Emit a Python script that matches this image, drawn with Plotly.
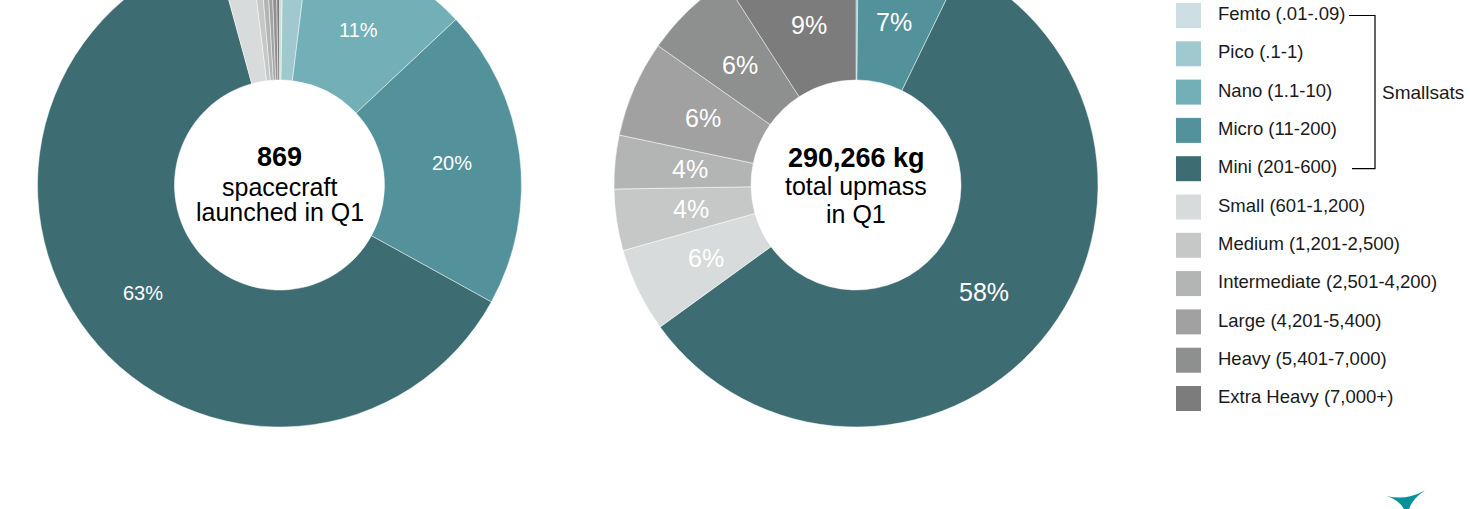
"""Q1 spacecraft launches by mass class: count and upmass donuts."""

import numpy as np
import plotly.graph_objects as go

FONT = "Liberation Sans, Arial, sans-serif"

CATEGORIES = [
    "Femto (.01-.09)", "Pico (.1-1)", "Nano (1.1-10)", "Micro (11-200)",
    "Mini (201-600)", "Small (601-1,200)", "Medium (1,201-2,500)",
    "Intermediate (2,501-4,200)", "Large (4,201-5,400)",
    "Heavy (5,401-7,000)", "Extra Heavy (7,000+)",
]
COLORS = [
    "#cddfe3", "#a0c8cf", "#72afb6", "#53929b", "#3d6c73",
    "#d8dbdb", "#c6c7c7", "#b3b4b4", "#a1a1a1", "#8e8f8f", "#7c7c7c",
]
# spacecraft launched in Q1 (total 869)
SPACECRAFT_COUNT = [2, 15, 96, 174, 545, 20, 5, 4, 3, 3, 2]
# upmass in kg (total 290,266)
UPMASS_KG = [1, 19, 400, 20500, 167800, 16300, 11900, 10400, 18700, 17800, 26446]

# which slices carry a percentage label
COUNT_LABELED = [False, False, True, True, True, False, False, False, False, False, False]
MASS_LABELED = [False, False, False, True, True, True, True, True, True, True, True]

SMALLSAT_GROUP = (0, 4)  # first/last legend row under the bracket

W, H = 1470, 566
CUT = 57  # the page is shifted up so the donut tops fall outside the window
R_OUT = 242
CY = 185  # donut centre, window pixels


def fx(px):
    return px / W


def fy(win_px):
    # window pixel (from top of visible area) -> paper y
    return 1 - (win_px + CUT) / H


def slice_labels(values, labeled, cx, r_lab, size):
    """Percent labels placed on each slice's bisector, mid-ring."""
    vals = np.asarray(values, dtype=float)
    total = vals.sum()
    start = np.concatenate([[0], np.cumsum(vals)[:-1]])
    mid = np.radians(360 * (start + vals / 2) / total)
    out = []
    for v, a, show in zip(vals, mid, labeled):
        if not show:
            continue
        out.append(dict(
            text=f"{v / total:.0%}",
            x=fx(cx + r_lab * np.sin(a)), y=fy(CY - r_lab * np.cos(a)),
            xref="paper", yref="paper", xanchor="center", yanchor="middle",
            showarrow=False, font=dict(family=FONT, size=size, color="#ffffff"),
        ))
    return out


fig = go.Figure()

pie_common = dict(
    sort=False,
    direction="clockwise",
    rotation=0,
    hole=0.434,
    showlegend=False,
    hoverinfo="label+value+percent",
    textinfo="none",
    marker=dict(colors=COLORS, line=dict(color="rgba(255,255,255,0.8)", width=0.6)),
)

LEFT_CX, RIGHT_CX = 279.5, 856
dom_y = [fy(CY + R_OUT), fy(CY - R_OUT)]

fig.add_trace(go.Pie(
    labels=CATEGORIES, values=SPACECRAFT_COUNT,
    domain=dict(x=[fx(LEFT_CX - R_OUT), fx(LEFT_CX + R_OUT)], y=dom_y),
    **pie_common,
))
fig.add_trace(go.Pie(
    labels=CATEGORIES, values=UPMASS_KG,
    domain=dict(x=[fx(RIGHT_CX - R_OUT), fx(RIGHT_CX + R_OUT)], y=dom_y),
    **pie_common,
))

# custom legend: big squares + labels
rows = list(range(len(CATEGORIES)))
LEGEND_X = 1188.5
LEGEND_TEXT_X = 1218

fig.add_trace(go.Scatter(
    x=[LEGEND_X] * len(rows), y=rows, mode="markers",
    marker=dict(symbol="square", size=25, color=COLORS, line=dict(width=0)),
    hoverinfo="skip", showlegend=False,
))
fig.add_trace(go.Scatter(
    x=[LEGEND_TEXT_X] * len(rows), y=rows, mode="text",
    text=CATEGORIES, textposition="middle right",
    textfont=dict(family=FONT, size=18.5, color="#1a1a1a"),
    hoverinfo="skip", showlegend=False,
))

top, bot = SMALLSAT_GROUP
fig.add_shape(
    type="path", xref="x", yref="y",
    path=f"M1349,{top} H1375 V{bot} H1352",
    line=dict(color="#000000", width=1.2),
)

annotations = [
    dict(text="Smallsats", x=1380, y=(top + bot) / 2, xref="x", yref="y",
         xanchor="left", yanchor="middle", showarrow=False,
         font=dict(family=FONT, size=19, color="#1a1a1a")),
]
annotations += slice_labels(SPACECRAFT_COUNT, COUNT_LABELED, LEFT_CX, 174, 20)
annotations += slice_labels(UPMASS_KG, MASS_LABELED, RIGHT_CX, 167, 25)

centers = [
    (LEFT_CX, [("<b>869</b>", 27, 157.2), ("spacecraft", 25, 187.3), ("launched in Q1", 25, 212)]),
    (RIGHT_CX, [("<b>290,266 kg</b>", 27, 158.2), ("total upmass", 25, 186.3), ("in Q1", 25, 214)]),
]
for cx, lines in centers:
    for txt, size, wy in lines:
        annotations.append(dict(
            text=txt, x=fx(cx), y=fy(wy), xref="paper", yref="paper",
            xanchor="center", yanchor="middle", showarrow=False,
            font=dict(family=FONT, size=size, color="#000000"),
        ))

# partial logo mark, bottom right
logo = (f"M{fx(1387)},{fy(496)} Q{fx(1405)},{fy(501)} {fx(1425)},{fy(490.5)} "
        f"Q{fx(1412)},{fy(499)} {fx(1409)},{fy(509)} L{fx(1404)},{fy(509)} "
        f"Q{fx(1399)},{fy(500)} {fx(1387)},{fy(496)} Z")
fig.add_shape(type="path", xref="paper", yref="paper", path=logo,
              fillcolor="#0b8f98", line=dict(width=0))

fig.update_layout(
    width=W,
    height=H,
    margin=dict(l=0, r=0, t=0, b=0),
    paper_bgcolor="#ffffff",
    plot_bgcolor="rgba(0,0,0,0)",
    font=dict(family=FONT, color="#1a1a1a"),
    xaxis=dict(range=[0, W], domain=[0, 1], visible=False, fixedrange=True),
    yaxis=dict(range=[(H - 72.5) / 38.3, -72.5 / 38.3], domain=[0, 1],
               visible=False, fixedrange=True),
    annotations=annotations,
    showlegend=False,
)

fig.write_html(
    "out.html",
    config={"displayModeBar": False},
    post_script=(
        "document.body.style.margin='0';"
        "document.body.style.overflow='hidden';"
        f"document.getElementById('{{plot_id}}').style.marginTop='-{CUT}px';"
    ),
)
